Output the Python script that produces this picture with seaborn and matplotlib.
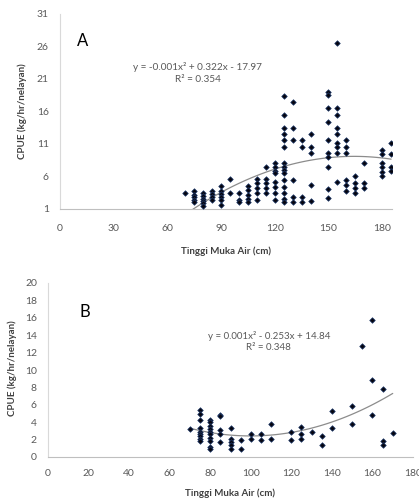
import matplotlib
matplotlib.use("Agg")
import matplotlib.pyplot as plt
import seaborn as sns
import pandas as pd

# ---------------- data ----------------
# Panel A
x_a = ([70] + [75]*5 + [80]*6 + [85]*4 + [90]*6 + [95]*2 + [100]*3 + [105]*5 +
       [110]*5 + [115]*5 + [120]*8 + [125]*15 + [130]*6 + [135]*4 + [140]*5 +
       [150]*10 + [155]*9 + [160]*6 + [165]*4 + [170]*3 + [180]*6 + [185]*4)
y_a = ([3.4] +
       [3.7, 3.2, 2.8, 2.4, 2.0] +
       [3.4, 3.0, 2.6, 2.3, 1.9, 1.4] +
       [3.7, 3.3, 2.9, 2.4] +
       [4.5, 3.7, 3.3, 2.9, 2.4, 1.6] +
       [5.6, 3.5] +
       [3.5, 2.4, 2.1] +
       [4.5, 3.9, 3.2, 2.6, 2.0] +
       [5.6, 5.0, 4.2, 3.5, 2.4] +
       [7.5, 5.6, 5.0, 4.2, 3.5] +
       [8.0, 7.5, 6.9, 6.5, 5.2, 4.4, 3.5, 2.4] +
       [18.4, 15.5, 13.5, 12.5, 11.6, 10.5, 8.1, 7.5, 7.0, 6.5, 5.5, 4.4, 3.5, 2.5, 2.1] +
       [17.5, 13.5, 11.6, 5.5, 2.8, 2.1] +
       [11.6, 10.5, 2.8, 2.1] +
       [12.5, 10.5, 9.6, 4.7, 2.2] +
       [19.0, 18.5, 16.5, 14.4, 11.6, 9.6, 9.0, 7.5, 4.1, 2.7] +
       [26.5, 16.5, 15.5, 13.5, 12.5, 11.2, 10.5, 9.6, 5.2] +
       [11.6, 10.5, 9.6, 5.5, 4.7, 3.8] +
       [6.1, 5.0, 4.2, 3.5] +
       [8.1, 5.0, 4.2] +
       [10.1, 9.5, 8.1, 7.5, 6.7, 6.1] +
       [11.2, 9.5, 7.5, 6.8])

# Panel B
x_b = ([70] + [75]*9 + [80]*10 + [85]*5 + [90]*5 + [95]*2 + [100]*2 + [105]*2 +
       [110]*2 + [120]*2 + [125]*3 + [130] + [135]*2 + [140]*2 + [150]*2 +
       [155] + [160]*3 + [165]*3 + [170])
y_b = ([3.2] +
       [5.4, 5.0, 4.2, 3.3, 2.9, 2.7, 2.4, 2.1, 1.8] +
       [4.3, 4.0, 3.6, 3.2, 2.9, 2.6, 2.2, 1.8, 1.2, 0.9] +
       [4.8, 4.7, 3.1, 2.7, 1.7] +
       [3.3, 2.1, 1.7, 1.4, 0.9] +
       [1.9, 0.9] +
       [2.6, 2.1] +
       [2.6, 1.9] +
       [3.8, 2.1] +
       [2.9, 2.0] +
       [3.5, 2.7, 2.1] +
       [2.9] +
       [2.4, 1.4] +
       [5.3, 3.3] +
       [5.9, 3.8] +
       [12.8] +
       [15.8, 8.8, 4.8] +
       [7.8, 1.8, 1.4] +
       [2.8])

xticks_a = [0, 30, 60, 90, 120, 150, 180]
yticks_a = [1, 6, 11, 16, 21, 26, 31]
xticks_b = [0, 20, 40, 60, 80, 100, 120, 140, 160, 180]
yticks_b = [0, 2, 4, 6, 8, 10, 12, 14, 16, 18, 20]

xlabel = "Tinggi Muka Air (cm)"
ylabel = "CPUE (kg/hr/nelayan)"
eq_a = ["y = -0.001x² + 0.322x - 17.97", "R² = 0.354"]
eq_b = ["y = 0.001x² - 0.253x + 14.84", "R² = 0.348"]

# ---------------- style ----------------
sns.set_theme(style="white")
plt.rcParams["font.family"] = ["Lato", "DejaVu Sans"]

W, H = 419, 501
fig = plt.figure(figsize=(W/100, H/100), dpi=100)

def px_axes(left, right, top, bottom):
    return fig.add_axes([left/W, 1 - bottom/H, (right-left)/W, (bottom-top)/H])

ax_a = px_axes(60, 392, 14, 209)
ax_b = px_axes(48, 413, 283, 457)

df_a = pd.DataFrame({"x": x_a, "y": y_a})
df_b = pd.DataFrame({"x": x_b, "y": y_b})

tick_col = "#595959"
for ax, df in [(ax_a, df_a), (ax_b, df_b)]:
    sns.scatterplot(data=df, x="x", y="y", ax=ax, marker="D", s=8,
                    color="#050510", edgecolor="#1f3a6b", linewidth=0.5, zorder=3)
    sns.regplot(data=df, x="x", y="y", ax=ax, order=2, ci=None, scatter=False,
                line_kws=dict(color="#8c8c8c", lw=0.9), truncate=True)
    for s in ["top", "right"]:
        ax.spines[s].set_visible(False)
    ax.spines["left"].set_color("#d9d9d9")
    ax.spines["bottom"].set_color("#bfbfbf")
    ax.spines["left"].set_linewidth(0.8)
    ax.spines["bottom"].set_linewidth(0.8)
    ax.set_xlabel("")
    ax.set_ylabel("")
    ax.grid(False)
    ax.tick_params(length=0, labelsize=7.5, colors=tick_col)

ax_a.set_xlim(0, 185.5)
ax_a.set_ylim(1, 31)
ax_a.set_xticks(xticks_a)
ax_a.set_yticks(yticks_a)
ax_a.tick_params(axis="x", pad=11)
ax_a.tick_params(axis="y", pad=8)

ax_b.set_xlim(0, 180)
ax_b.set_ylim(0, 20)
ax_b.set_xticks(xticks_b)
ax_b.set_yticks(yticks_b)
ax_b.tick_params(axis="x", pad=9)
ax_b.tick_params(axis="y", pad=8)

title_col = "#404040"
# axis titles
fig.text(226/W, 1 - 251/H, xlabel, ha="center", va="center", fontsize=7,
         fontweight="bold", color=title_col)
fig.text(230/W, 1 - 493/H, xlabel, ha="center", va="center", fontsize=7,
         fontweight="bold", color=title_col)
fig.text(22/W, 1 - 111/H, ylabel, ha="center", va="center", rotation=90,
         fontsize=7, fontweight="bold", color=title_col)
fig.text(12/W, 1 - 368/H, ylabel, ha="center", va="center", rotation=90,
         fontsize=7, fontweight="bold", color=title_col)

# panel letters
fig.text(83/W, 1 - 41/H, "A", ha="center", va="center", fontsize=12, color="black")
fig.text(85/W, 1 - 312/H, "B", ha="center", va="center", fontsize=12, color="black")

# equations
fig.text(197/W, 1 - 67/H, eq_a[0], ha="center", va="center", fontsize=7.2, color=tick_col)
fig.text(198/W, 1 - 80/H, eq_a[1], ha="center", va="center", fontsize=7.2, color=tick_col)
fig.text(269/W, 1 - 336/H, eq_b[0], ha="center", va="center", fontsize=7, color=tick_col)
fig.text(268/W, 1 - 348/H, eq_b[1], ha="center", va="center", fontsize=7, color=tick_col)

fig.savefig("out.png", dpi=100, facecolor="white")
